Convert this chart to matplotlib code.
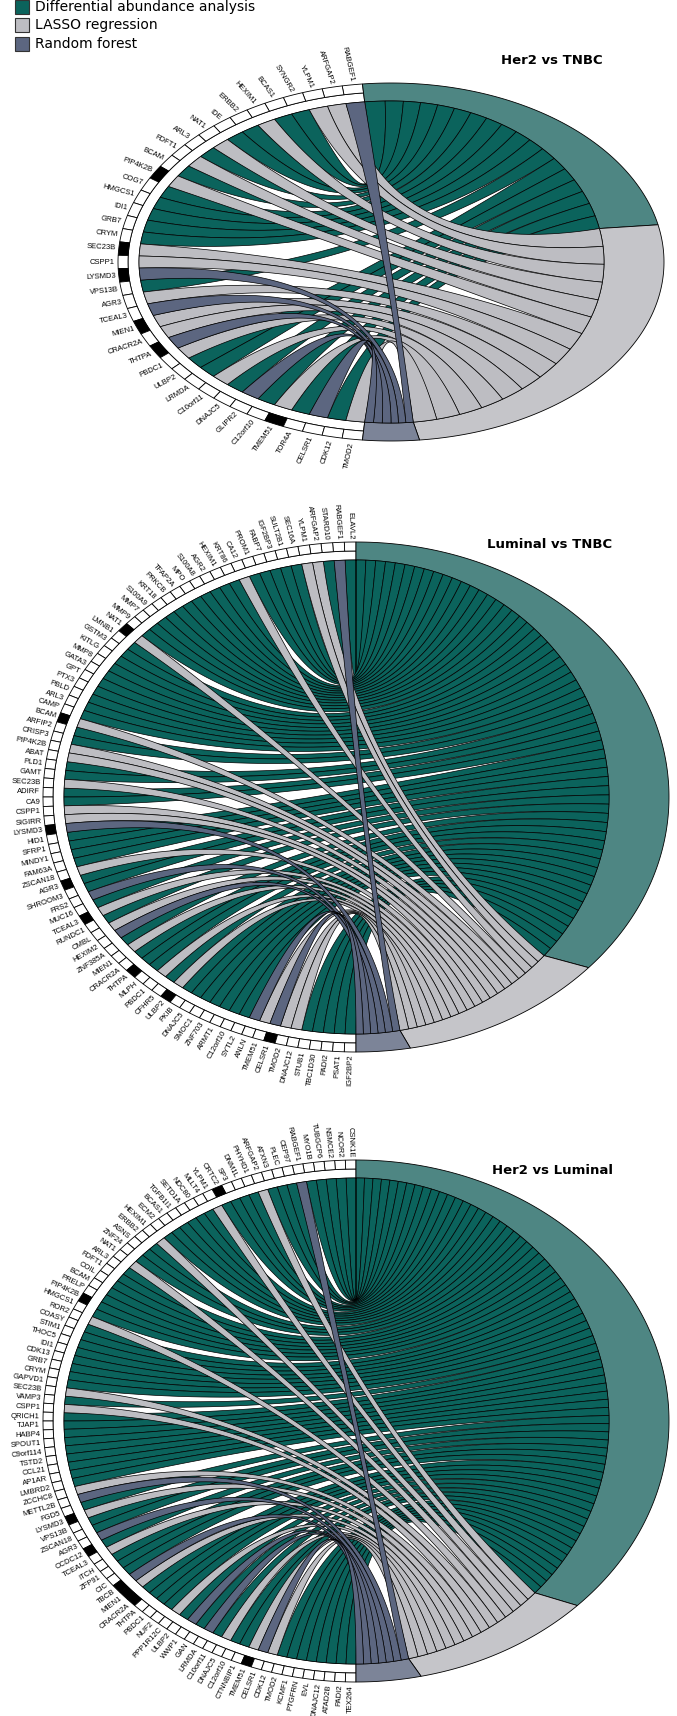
import numpy as np
import matplotlib.pyplot as plt
from matplotlib.patches import Polygon, Rectangle

# ------------------------------------------------------------
# data: genes (counter-clockwise from the top), selected by which method
# ------------------------------------------------------------
genes_her2_tnbc = ["RABGEF1", "ARFGAP2", "YLPM1", "SYNGR2", "BCAS1", "HEXIM1", "ERBB2", "IDE",
                   "NAT1", "ARL3", "FDFT1", "BCAM", "PIP4K2B", "COG7", "HMGCS1", "IDI1", "GRB7",
                   "CRYM", "SEC23B", "CSPP1", "LYSMD3", "VPS13B", "AGR3", "TCEAL3", "MIEN1",
                   "CRACR2A", "THTPA", "PBDC1", "ULBP2", "LRMDA", "C10orf11", "DNAJC5", "GLIPR2",
                   "C12orf10", "TMEM51", "TOR4A", "CELSR1", "CDK12", "TMOD2"]
lasso_her2_tnbc = ["ARFGAP2", "YLPM1", "HEXIM1", "NAT1", "FDFT1", "PIP4K2B", "SEC23B", "CSPP1",
                   "AGR3", "MIEN1", "CRACR2A", "PBDC1", "C10orf11", "TMEM51", "TMOD2"]
rf_her2_tnbc = ["RABGEF1", "LYSMD3", "TCEAL3", "THTPA", "GLIPR2", "CELSR1"]
black_her2_tnbc = ["PIP4K2B", "SEC23B", "LYSMD3", "MIEN1", "THTPA", "TMEM51"]

genes_lum_tnbc = ["ELAVL2", "RABGEF1", "STARD10", "ARFGAP2", "YLPM1", "SEC16A", "SULT2B1", "IGF2BP3",
                  "FABP7", "PROM1", "CA12", "KRT86", "HEXIM1", "AGR2", "S100A8", "MPO", "TFAP2A",
                  "PRKCB", "KRT18", "S100A9", "MMP7", "MMP9", "NAT1", "LMNB1", "GSTM3", "KITLG",
                  "MMP8", "GATA3", "GPT", "PTX3", "PBLD", "ARL3", "CAMP", "BCAM", "ARFIP2", "CRISP3",
                  "PIP4K2B", "ABAT", "PLD1", "GAMT", "SEC23B", "ADIRF", "CA9", "CSPP1", "SIGIRR",
                  "LYSMD3", "HID1", "SFRP1", "MINDY1", "FAM63A", "ZSCAN18", "AGR3", "SHROOM3", "FRS2",
                  "MUC16", "TCEAL3", "RUNDC1", "CMBL", "HEXIM2", "ZNF385A", "MIEN1", "CRACR2A",
                  "THTPA", "MLPH", "PBDC1", "CFHR5", "ULBP2", "PKIB", "DNAJC5", "SMOC1", "ZNF703",
                  "ARMT1", "C12orf10", "SYTL2", "ANLN", "TMEM51", "CELSR1", "TMOD2", "DNAJC12",
                  "STUB1", "TBC1D30", "PADI2", "PSAT1", "IGF2BP2"]
lasso_lum_tnbc = ["ARFGAP2", "YLPM1", "CA12", "NAT1", "BCAM", "PIP4K2B", "ABAT", "SEC23B", "CSPP1",
                  "SIGIRR", "ZSCAN18", "TCEAL3", "CMBL", "MIEN1", "PBDC1", "ULBP2", "TMEM51",
                  "TMOD2", "DNAJC12"]
rf_lum_tnbc = ["RABGEF1", "LYSMD3", "FRS2", "HEXIM2", "ANLN", "CELSR1"]
black_lum_tnbc = ["NAT1", "BCAM", "LYSMD3", "AGR3", "TCEAL3", "THTPA", "ULBP2", "CELSR1"]

genes_her2_lum = ["CSNK1E", "NCOR2", "NSMCE2", "TUBGCP6", "MYO1B", "RABGEF1", "CEP97", "PLEC",
                  "ATXN3", "ARFGAP2", "PHYHD1", "DNM1L", "SP3", "CRTC2", "YLPM1", "MLLT4", "NDC80",
                  "SETD1A", "TGFB1I1", "BCAS1", "ECM2", "HEXIM1", "ERBB2", "ASNS", "ZNF24", "NAT1",
                  "ARL3", "FDFT1", "COIL", "BCAM", "PRELP", "PIP4K2B", "HMGCS1", "ROR2", "COASY",
                  "STIM1", "THOC5", "IDI1", "CDK13", "GRB7", "CRYM", "GAPVD1", "SEC23B", "VAMP3",
                  "CSPP1", "QRICH1", "TJAP1", "HABP4", "SPOUT1", "C9orf114", "TSTD2", "CCL21",
                  "AP1AR", "LMBRD2", "ZCCHC8", "METTL2B", "FGD5", "LYSMD3", "VPS13B", "ZSCAN18",
                  "AGR3", "CCDC12", "TCEAL3", "ITCH", "ZFP91", "CIC", "TBCB", "MIEN1", "CRACR2A",
                  "THTPA", "PBDC1", "NUF2", "PPP1R12C", "ULBP2", "WWP1", "GAN", "LRMDA", "C10orf11",
                  "DNAJC5", "C12orf10", "CTNNBIP1", "TMEM51", "CELSR1", "CDK12", "TMOD2", "KCMF1",
                  "PTGFRN", "EVL", "DNAJC12", "ATAD2B", "PADI2", "TEX264"]
lasso_her2_lum = ["ARFGAP2", "YLPM1", "HEXIM1", "NAT1", "ROR2", "SEC23B", "CSPP1", "ZCCHC8",
                  "LYSMD3", "TCEAL3", "MIEN1", "PPP1R12C", "DNAJC5", "TMEM51", "CDK12"]
rf_her2_lum = ["RABGEF1", "METTL2B", "AGR3", "TBCB", "WWP1", "LRMDA", "CELSR1"]
black_her2_lum = ["CRTC2", "PIP4K2B", "LYSMD3", "CCDC12", "TBCB", "MIEN1", "CRACR2A", "TMEM51"]

methods = ["Differential abundance analysis", "LASSO regression", "Random forest"]

# ------------------------------------------------------------
# styling / layout
# ------------------------------------------------------------
CHORD = {"D": "#0b635c", "L": "#bdbdc2", "R": "#5c6680"}
ARC = {"D": "#4e8683", "L": "#c5c5c9", "R": "#7c8498"}
ORDER = ["D", "L", "R"]

W, H = 677, 1716
fig = plt.figure(figsize=(W / 100, H / 100), dpi=100)
ax = fig.add_axes([0, 0, 1, 1])
ax.set_xlim(0, W)
ax.set_ylim(H, 0)
ax.axis("off")

RING = (10, 10, 9)      # inset of box ring (left, right, vertical)
INNER = (21, 60, 18)    # inset of chord ends


def codes(genes, lasso, rf):
    return ["L" if g in lasso else "R" if g in rf else "D" for g in genes]


def ell(g, th, ins):
    th = np.radians(np.atleast_1d(np.asarray(th, dtype=float)))
    c, s = np.cos(th), np.sin(th)
    a = np.where(c < 0, g["a"] - ins[0], g["a"] - ins[1])
    return np.column_stack([g["cx"] + a * c, g["cy"] - (g["b"] - ins[2]) * s])


def band(g, t0, t1, ins_out, ins_in, **kw):
    t = np.linspace(t0, t1, max(4, int(abs(t1 - t0) * 2)))
    pts = np.vstack([ell(g, t, ins_out), ell(g, t[::-1], ins_in)])
    ax.add_patch(Polygon(pts, closed=True, **kw))


def bez(p0, p2, c, n=60):
    t = np.linspace(0, 1, n)[:, None]
    return (1 - t) ** 2 * p0 + 2 * (1 - t) * t * c + t ** 2 * p2


def chord_diagram(g, genes, lasso, rf, black, bounds, title):
    sel = codes(genes, lasso, rf)
    n = len(genes)
    step = (g["te"] - g["ts"]) / n
    ctr = np.array([g["cx"], g["cy"]])
    band(g, g["ts"], g["te"], RING, INNER, facecolor="white", edgecolor="black", lw=0.6)
    for i, name in enumerate(genes):
        t0 = g["ts"] + i * step
        band(g, t0, t0 + step, (0, 0, 0), RING, facecolor="black" if name in black else "white",
             edgecolor="black", lw=0.6)
        tm = np.radians(t0 + step / 2)
        phi = np.degrees(np.arctan2(g["b"] * np.sin(tm), g["a"] * np.cos(tm)))
        x = g["cx"] + (g["a"] + 3) * np.cos(tm)
        y = g["cy"] - (g["b"] + 3) * np.sin(tm)
        ax.text(x, y, name, rotation=phi - 180, rotation_mode="anchor", ha="right", va="center",
                fontsize=5.5, family="Liberation Sans")
    for k, m in enumerate(ORDER):
        band(g, bounds[k], bounds[k + 1], (0, 0, 0), INNER, facecolor=ARC[m],
             edgecolor="black", lw=0.6)
    # ribbons: top gene takes the top slot of its arc (no crossing inside a method)
    for k, m in enumerate(ORDER):
        idx = [i for i in range(n) if sel[i] == m]
        if not idx:
            continue
        w = (bounds[k] - bounds[k + 1]) / len(idx)
        for j, i in enumerate(idx):
            g0 = g["ts"] + i * step
            c_hi = bounds[k] - j * w
            ga = ell(g, np.linspace(g0, g0 + step, 6), INNER)
            ca = ell(g, np.linspace(c_hi - w, c_hi, 6), INNER)
            pts = np.vstack([ga, bez(ga[-1], ca[0], ctr), ca, bez(ca[-1], ga[0], ctr)])
            ax.add_patch(Polygon(pts, closed=True, facecolor=CHORD[m], edgecolor="black",
                                 lw=0.5, zorder=2 + k))
    ax.text(g["tx"], g["ty"], title, ha="center", va="center", fontsize=9.5, fontweight="bold")


geo1 = dict(cx=391, cy=262, a=273, b=179, ts=96, te=264, tx=552, ty=60)
geo2 = dict(cx=356, cy=797, a=313, b=255, ts=90, te=270, tx=550, ty=544)
geo3 = dict(cx=356, cy=1421, a=313, b=261, ts=90, te=270, tx=552, ty=1170)

chord_diagram(geo1, genes_her2_tnbc, lasso_her2_tnbc, rf_her2_tnbc, black_her2_tnbc,
              [96, 12, -84, -96], "Her2 vs TNBC")
chord_diagram(geo2, genes_lum_tnbc, lasso_lum_tnbc, rf_lum_tnbc, black_lum_tnbc,
              [90, -42, -80, -90], "Luminal vs TNBC")
chord_diagram(geo3, genes_her2_lum, lasso_her2_lum, rf_her2_lum, black_her2_lum,
              [90, -45, -78, -90], "Her2 vs Luminal")

# legend
for k, (m, label) in enumerate(zip(ORDER, methods)):
    y = 6.5 + 18.5 * k
    ax.add_patch(Rectangle((15, y - 7), 14, 14, facecolor=CHORD[m], edgecolor="#333333", lw=0.8))
    ax.text(35, y, label, va="center", ha="left", fontsize=10)

fig.savefig("out.png", dpi=100)
